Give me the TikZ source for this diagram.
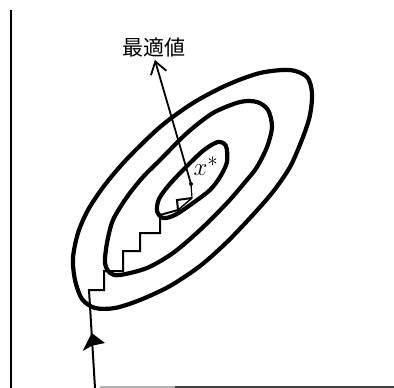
\documentclass[tikz,border=0pt]{standalone}
\usepackage{fontspec}
\newfontfamily\cjk{Noto Sans CJK JP}
\usetikzlibrary{arrows.meta}
\begin{document}
\begin{tikzpicture}[x=1pt,y=-1pt,
  contour/.style={line width=4.2pt},
  walk/.style={line width=2pt,line join=miter},
  axisline/.style={line width=2pt}]
\useasboundingbox (0,0) rectangle (394,388);
% axes
\coordinate (ytop) at (11,10);
\coordinate (ybot) at (11,388);
\draw[axisline] (ytop) -- (ybot);
\coordinate (xa) at (100,387);
\coordinate (xb) at (175,387);
\coordinate (xc) at (394,387);
\draw[line width=1.5pt,black!30] (xa) -- (xb);
\draw[line width=1.5pt,black!75] (xb) -- (xc);
% contours
\draw[contour] plot[smooth cycle] coordinates {
  (290,70) (307,77) (312,93) (310,115) (303,137) (290,167) (272,193)
  (250,218) (226,243) (200,266) (170,286) (140,300) (115,308) (95,308)
  (82,299) (75,280) (73,258) (78,233) (88,210) (104,186) (126,160)
  (160,127) (193,103) (227,85) (260,73)};
\draw[contour] plot[smooth cycle] coordinates {
  (240,102) (257,102) (268,110) (272,127) (267,147) (257,167) (246,181)
  (227,203) (200,230) (173,253) (147,268) (120,275) (110,273) (105,263)
  (107,243) (113,220) (127,197) (143,177) (160,160) (187,133) (213,113)};
\draw[contour] plot[smooth cycle] coordinates {
  (218,142) (226,146) (227,162) (220,177) (210,190) (193,203) (175,215)
  (163,218) (157,211) (159,199) (169,185) (187,166) (204,150)};
% optimum point and label
\coordinate (opt) at (191,184);
\fill (opt) circle (2pt);
\node[anchor=south, inner sep=0pt, font=\cjk\fontsize{21}{21}\selectfont] (lbl) at (154,57) {最適値};
\draw[line width=1.8pt, -{Straight Barb[length=12pt,width=16pt,line width=1.8pt]}, shorten >=3pt] (opt) -- (lbl.south);
\node[inner sep=0pt, font=\fontsize{28}{28}\selectfont] (xs) at (206,166) {$x^{*}$};
% search path
\coordinate (start) at (95,388);
\coordinate (s0) at (89,290);
\coordinate (s1) at (104,290);
\coordinate (s2) at (104,271);
\coordinate (s3) at (123,271);
\coordinate (s4) at (123,251);
\coordinate (s5) at (140,251);
\coordinate (s6) at (140,233);
\coordinate (s7) at (160,233);
\coordinate (s8) at (160,215);
\coordinate (s9) at (178,210);
\coordinate (s10) at (177,200);
\coordinate (s11) at (192,198);
\draw[walk] (start) -- (s0) -- (s1) -- (s2) -- (s3) -- (s4) -- (s5) -- (s6) -- (s7) -- (s8) -- (s9) -- (s10) -- (s11);
\draw[line width=1.4pt] (s9) -- (s11);
\draw[line width=1.2pt] (s11) -- (opt);
% arrowhead on the entry line
\coordinate (ah) at (91.7,333);
\fill (ah) -- (82.7,351) -- (92,345.7) -- (105,343) -- cycle;
\end{tikzpicture}
\end{document}
